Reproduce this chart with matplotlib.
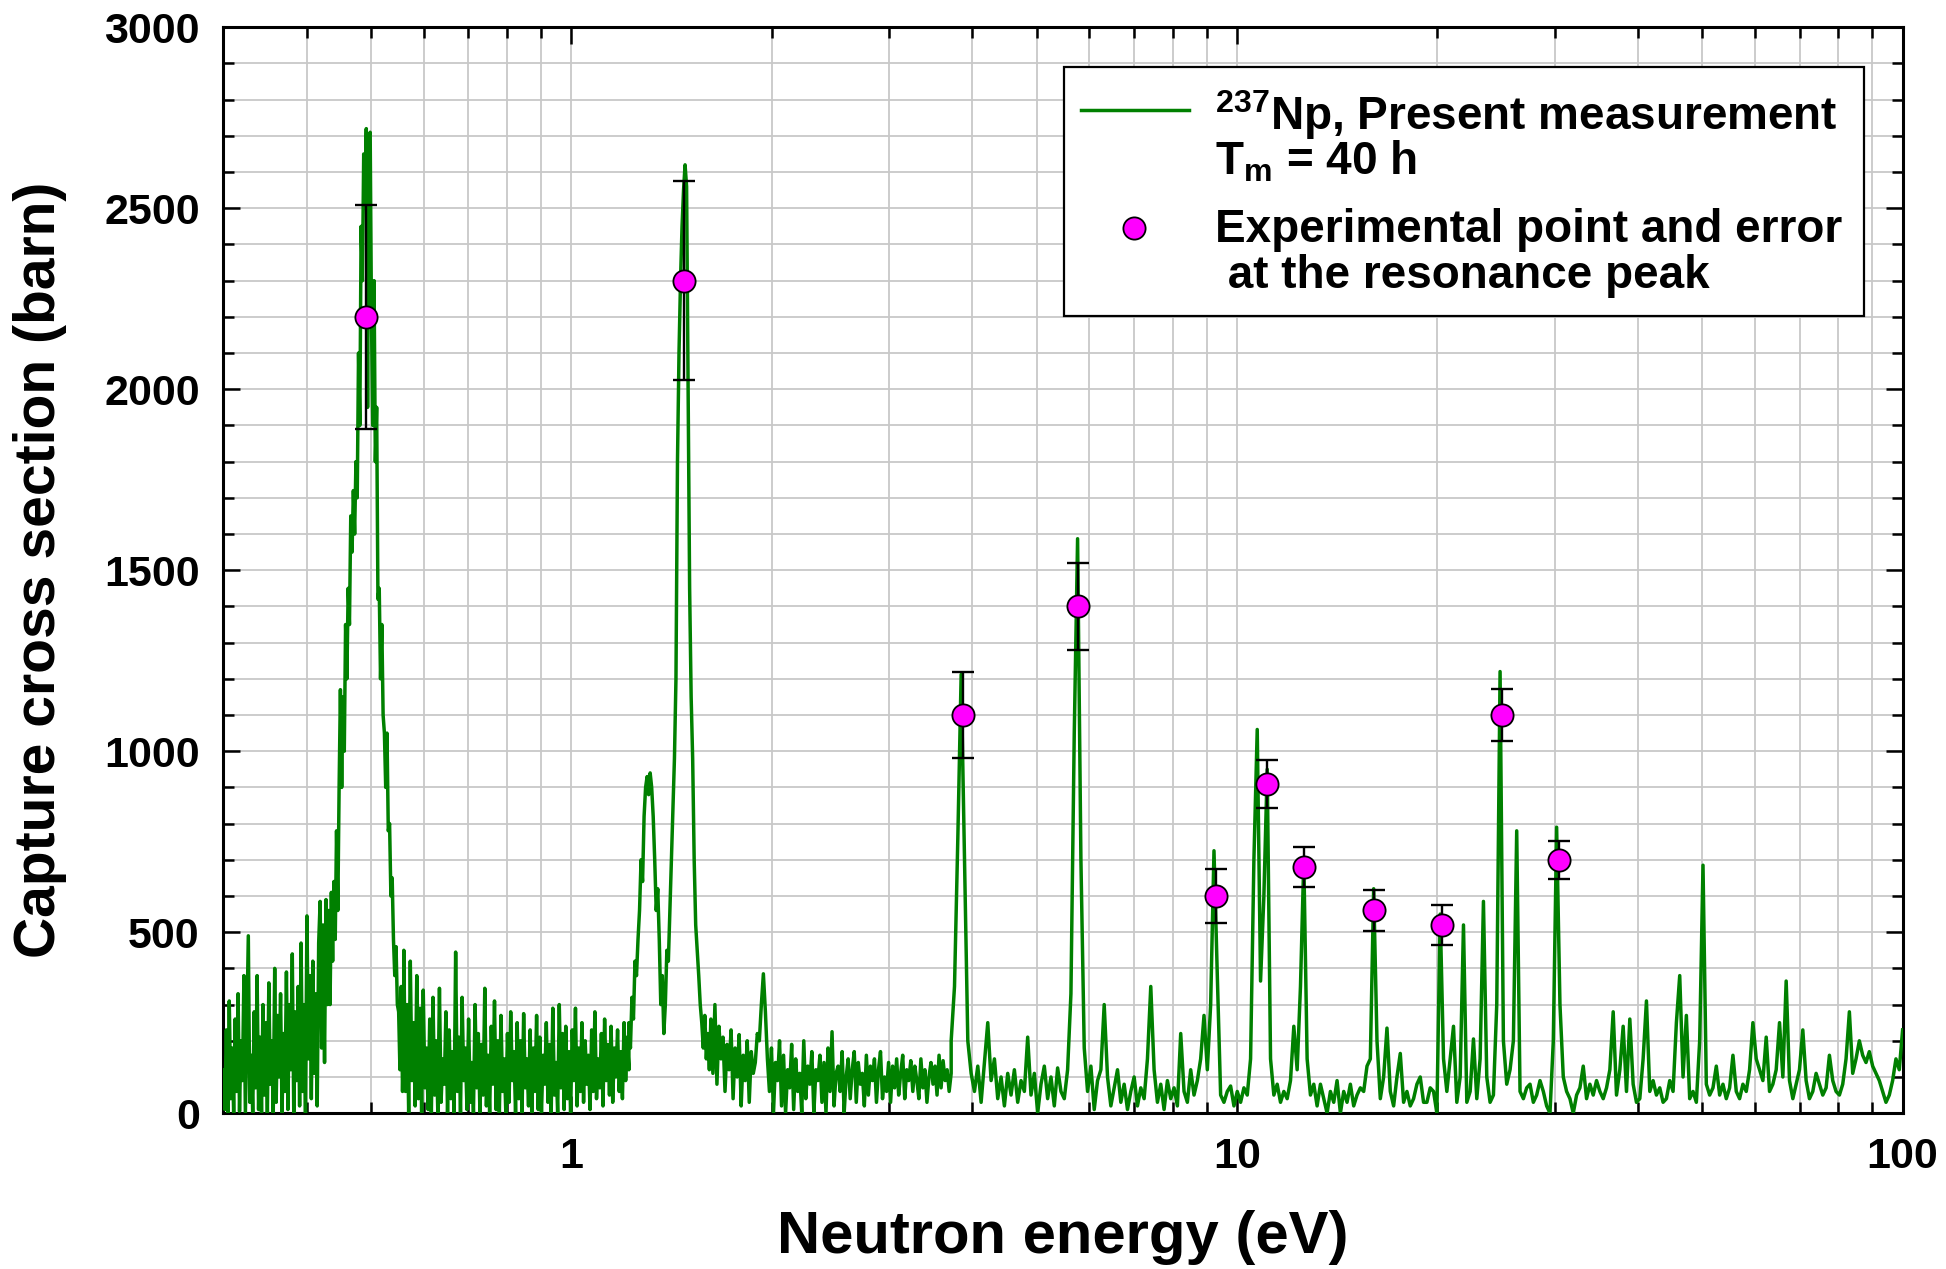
import numpy as np
import matplotlib
matplotlib.use('Agg')
import matplotlib.pyplot as plt
from matplotlib.ticker import MultipleLocator, LogLocator, NullFormatter, FuncFormatter
from matplotlib.patches import Rectangle
from matplotlib.lines import Line2D

plt.rcParams['font.family'] = ['Liberation Sans', 'DejaVu Sans']
plt.rcParams['font.weight'] = 'bold'
plt.rcParams['mathtext.fontset'] = 'custom'
plt.rcParams['mathtext.rm'] = 'Liberation Sans:bold'
plt.rcParams['mathtext.it'] = 'Liberation Sans:bold'
plt.rcParams['mathtext.bf'] = 'Liberation Sans:bold'

# --- measured spectrum, read off the figure segment by segment ---
# each segment: energy range (eV), cross sections (barn) on a log-spaced channel grid
seg_ranges = [(0.30, 0.43), (0.43, 0.56), (0.56, 1.22), (1.22, 1.62), (1.62, 3.72), (3.72, 100.0)]

# 0.30 - 0.43 eV, noisy low energy part
sig_low = [120, 10, 230, 0, 310, 40, 180, 0, 260, 60,
           330, 5, 200, 90, 380, 0, 240, 490, 30, 160,
           0, 280, 70, 380, 10, 210, 0, 300, 50, 250,
           0, 360, 80, 200, 0, 400, 30, 270, 100, 330,
           0, 220, 60, 390, 10, 300, 120, 440, 0, 280,
           90, 350, 20, 470, 60, 300, 0, 545, 150, 380,
           40, 420, 110, 330, 20, 470, 585, 180, 520, 140,
           590, 300]

# 0.43 - 0.56 eV, first resonance (0.49 eV)
sig_res1 = [380, 560, 300, 610, 420, 640, 480, 780, 560, 900,
            1170, 900, 1150, 1000, 1350, 1200, 1450, 1350, 1650, 1550,
            1720, 1600, 1800, 1700, 2100, 1900, 2450, 2300, 2650, 2500,
            2720, 1950, 2700, 2710, 2200, 1900, 2300, 1800, 1950, 1420,
            1450, 1200, 1350, 1100, 1050, 900, 1050, 780, 800, 600,
            650, 480, 380, 460, 300, 280, 120, 350, 60, 230]

# 0.56 - 1.22 eV, noise band between the first two resonances
sig_mid = [450, 60, 300, 0, 420, 90, 250, 20, 380, 40,
           290, 0, 340, 70, 180, 10, 260, 0, 320, 50,
           200, 0, 345, 30, 150, 80, 280, 0, 230, 40,
           170, 0, 445, 60, 210, 0, 320, 90, 180, 10,
           260, 30, 140, 0, 300, 70, 220, 0, 190, 50,
           345, 20, 160, 0, 240, 80, 310, 10, 200, 0,
           270, 60, 150, 0, 220, 30, 280, 90, 170, 0,
           250, 40, 200, 0, 275, 70, 150, 20, 230, 0,
           180, 60, 270, 10, 210, 0, 160, 80, 250, 30,
           190, 0, 290, 50, 140, 0, 300, 70, 220, 10,
           240, 40, 170, 0, 230, 90, 290, 20, 180, 60,
           250, 30, 200, 80, 160, 10, 230, 60, 280, 40,
           150, 70, 220, 20, 260, 90, 190, 50, 240, 30,
           180, 100, 230, 60, 170, 40, 250, 90, 210, 120]

# 1.22 - 1.62 eV, doublet at 1.3 eV and resonance at 1.48 eV
sig_res2 = [250, 180, 320, 260, 420, 380, 480, 560, 700, 640,
            820, 900, 930, 880, 940, 900, 820, 700, 560, 620,
            480, 300, 380, 220, 300, 450, 420, 560, 700, 850,
            980, 1200, 1800, 2100, 2300, 2450, 2550, 2620, 2560, 2000,
            1450, 1150, 980, 700, 520, 450, 380, 300, 250, 180,
            270, 150, 220, 120, 260]

# 1.62 - 3.72 eV, noise band with small bump near 1.95 eV
sig_band = [260, 110, 300, 80, 240, 150, 210, 60, 190, 120,
            230, 40, 180, 100, 217, 20, 160, 90, 200, 30,
            170, 110, 140, 220, 200, 300, 385, 280, 150, 60,
            180, 0, 140, 90, 200, 20, 160, 0, 120, 70,
            190, 10, 150, 60, 110, 0, 200, 40, 130, 80,
            170, 0, 120, 90, 160, 30, 140, 0, 180, 60,
            225, 20, 110, 130, 60, 170, 0, 100, 150, 40,
            120, 170, 30, 140, 80, 110, 20, 160, 50, 130,
            90, 150, 30, 120, 170, 40, 100, 60, 140, 30,
            130, 70, 150, 50, 110, 160, 40, 120, 90, 145,
            60, 130, 90, 40, 150, 70, 120, 30, 100, 140,
            80, 130, 50, 160, 70, 145, 90, 120, 60, 110]

# 3.72 - 100 eV, resolved resonances
sig_high = [200, 350, 760, 1212, 700, 200, 110, 60, 130, 30,
            140, 250, 90, 150, 40, 100, 20, 110, 50, 120,
            30, 90, 60, 210, 50, 110, 0, 80, 130, 40,
            100, 20, 125, 60, 40, 120, 330, 1050, 1587, 700,
            180, 60, 130, 10, 90, 120, 300, 100, 20, 70,
            120, 30, 80, 10, 60, 100, 20, 70, 40, 150,
            350, 120, 30, 80, 10, 90, 40, 70, 20, 220,
            60, 30, 120, 50, 90, 150, 270, 120, 300, 725,
            380, 50, 30, 60, 75, 20, 60, 30, 70, 50,
            150, 700, 1060, 365, 600, 950, 150, 50, 80, 30,
            60, 40, 90, 240, 120, 350, 700, 150, 50, 80,
            20, 80, 40, 0, 60, 30, 90, 0, 60, 30,
            80, 20, 50, 70, 60, 130, 150, 620, 200, 40,
            100, 235, 60, 20, 100, 165, 30, 60, 20, 40,
            80, 100, 30, 30, 70, 60, 0, 550, 150, 60,
            150, 240, 30, 100, 520, 30, 60, 205, 40, 150,
            585, 100, 30, 50, 300, 1220, 200, 80, 120, 200,
            780, 60, 40, 70, 80, 30, 50, 90, 60, 20,
            0, 200, 790, 300, 100, 60, 40, 0, 50, 70,
            130, 40, 80, 50, 90, 60, 40, 70, 120, 280,
            50, 120, 240, 60, 260, 80, 30, 40, 150, 310,
            60, 90, 50, 70, 30, 40, 90, 60, 250, 380,
            100, 270, 40, 60, 30, 200, 685, 80, 50, 70,
            130, 50, 80, 40, 70, 160, 60, 40, 80, 60,
            120, 250, 150, 120, 90, 210, 60, 80, 120, 250,
            100, 365, 90, 40, 80, 120, 230, 90, 40, 60,
            110, 80, 50, 70, 160, 90, 60, 50, 80, 150,
            280, 110, 150, 200, 160, 140, 170, 130, 110, 90,
            60, 30, 50, 90, 150, 120, 230]

seg_values = [sig_low, sig_res1, sig_mid, sig_res2, sig_band, sig_high]

# experimental points at the resonance peaks
peak_energy = [0.492, 1.478, 3.87, 5.77, 9.30, 11.09, 12.61, 16.04, 20.32, 24.97, 30.43]
peak_sigma = [2200, 2300, 1100, 1400, 600, 910, 680, 560, 520, 1100, 700]
peak_error = [310, 275, 120, 120, 75, 67, 56, 57, 55, 73, 52]

energy = np.concatenate([np.geomspace(lo, hi, len(v)) for (lo, hi), v in zip(seg_ranges, seg_values)])
sigma = np.concatenate([np.array(v, dtype=float) for v in seg_values])

fig = plt.figure(figsize=(19.46, 12.69), dpi=100)
ax = fig.add_axes([0.1148, 0.1228, 0.8629, 0.8557])

ax.plot(energy, sigma, color='#008000', lw=2.5, zorder=3)
ax.errorbar(peak_energy, peak_sigma, yerr=peak_error, fmt='none', ecolor='black',
            elinewidth=1.7, capsize=8, capthick=1.7, zorder=4)
ax.plot(peak_energy, peak_sigma, 'o', ms=16, mfc='#ff00ff', mec='black', mew=1.3, zorder=5)

ax.set_xscale('log')
ax.set_xlim(0.3, 100)
ax.set_ylim(0, 3000)

ax.xaxis.set_major_locator(LogLocator(base=10, numticks=10))
ax.xaxis.set_minor_locator(LogLocator(base=10, subs=np.arange(2, 10), numticks=20))
ax.xaxis.set_major_formatter(FuncFormatter(lambda v, p: f'{v:g}'))
ax.xaxis.set_minor_formatter(NullFormatter())
ax.yaxis.set_major_locator(MultipleLocator(500))
ax.yaxis.set_minor_locator(MultipleLocator(100))

ax.grid(which='both', color='#c8c8c8', lw=1.3)
ax.set_axisbelow(True)
ax.tick_params(which='both', direction='in', top=True, right=True, width=1.8, labelsize=31)
ax.tick_params(which='major', length=12.5, pad=17)
ax.tick_params(which='minor', length=8)
for lab in ax.get_xticklabels() + ax.get_yticklabels():
    lab.set_fontweight('bold')
for sp in ax.spines.values():
    sp.set_linewidth(2.2)

fig.text(0.5463, 0.0252, 'Neutron energy (eV)', ha='center', va='center', fontsize=43, fontweight='bold')
fig.text(0.0204, 0.5511, 'Capture cross section (barn)', ha='center', va='center',
         rotation=90, fontsize=41, fontweight='bold')

# legend box drawn by hand to keep the two-line entries
ax.add_patch(Rectangle((0.5003, 0.7337), 0.4767, 0.2297, transform=ax.transAxes,
                       fc='white', ec='black', lw=1.6, zorder=6))
ax.add_artist(Line2D([0.511, 0.575], [0.9234, 0.9234], transform=ax.transAxes,
                     color='#008000', lw=2.5, zorder=7))
ax.add_artist(Line2D([0.5423], [0.8149], transform=ax.transAxes, marker='o', ms=16,
                     mfc='#ff00ff', mec='black', mew=1.3, ls='none', zorder=7))
leg_lines = [(0.9188, '$^{237}$Np, Present measurement'),
             (0.8766, 'T$_{m}$ = 40 h'),
             (0.8137, 'Experimental point and error'),
             (0.7714, ' at the resonance peak')]
for y, s in leg_lines:
    ax.text(0.5905, y, s, transform=ax.transAxes, ha='left', va='center',
            fontsize=33, fontweight='bold', zorder=7)

fig.savefig('out.png', dpi=100)
